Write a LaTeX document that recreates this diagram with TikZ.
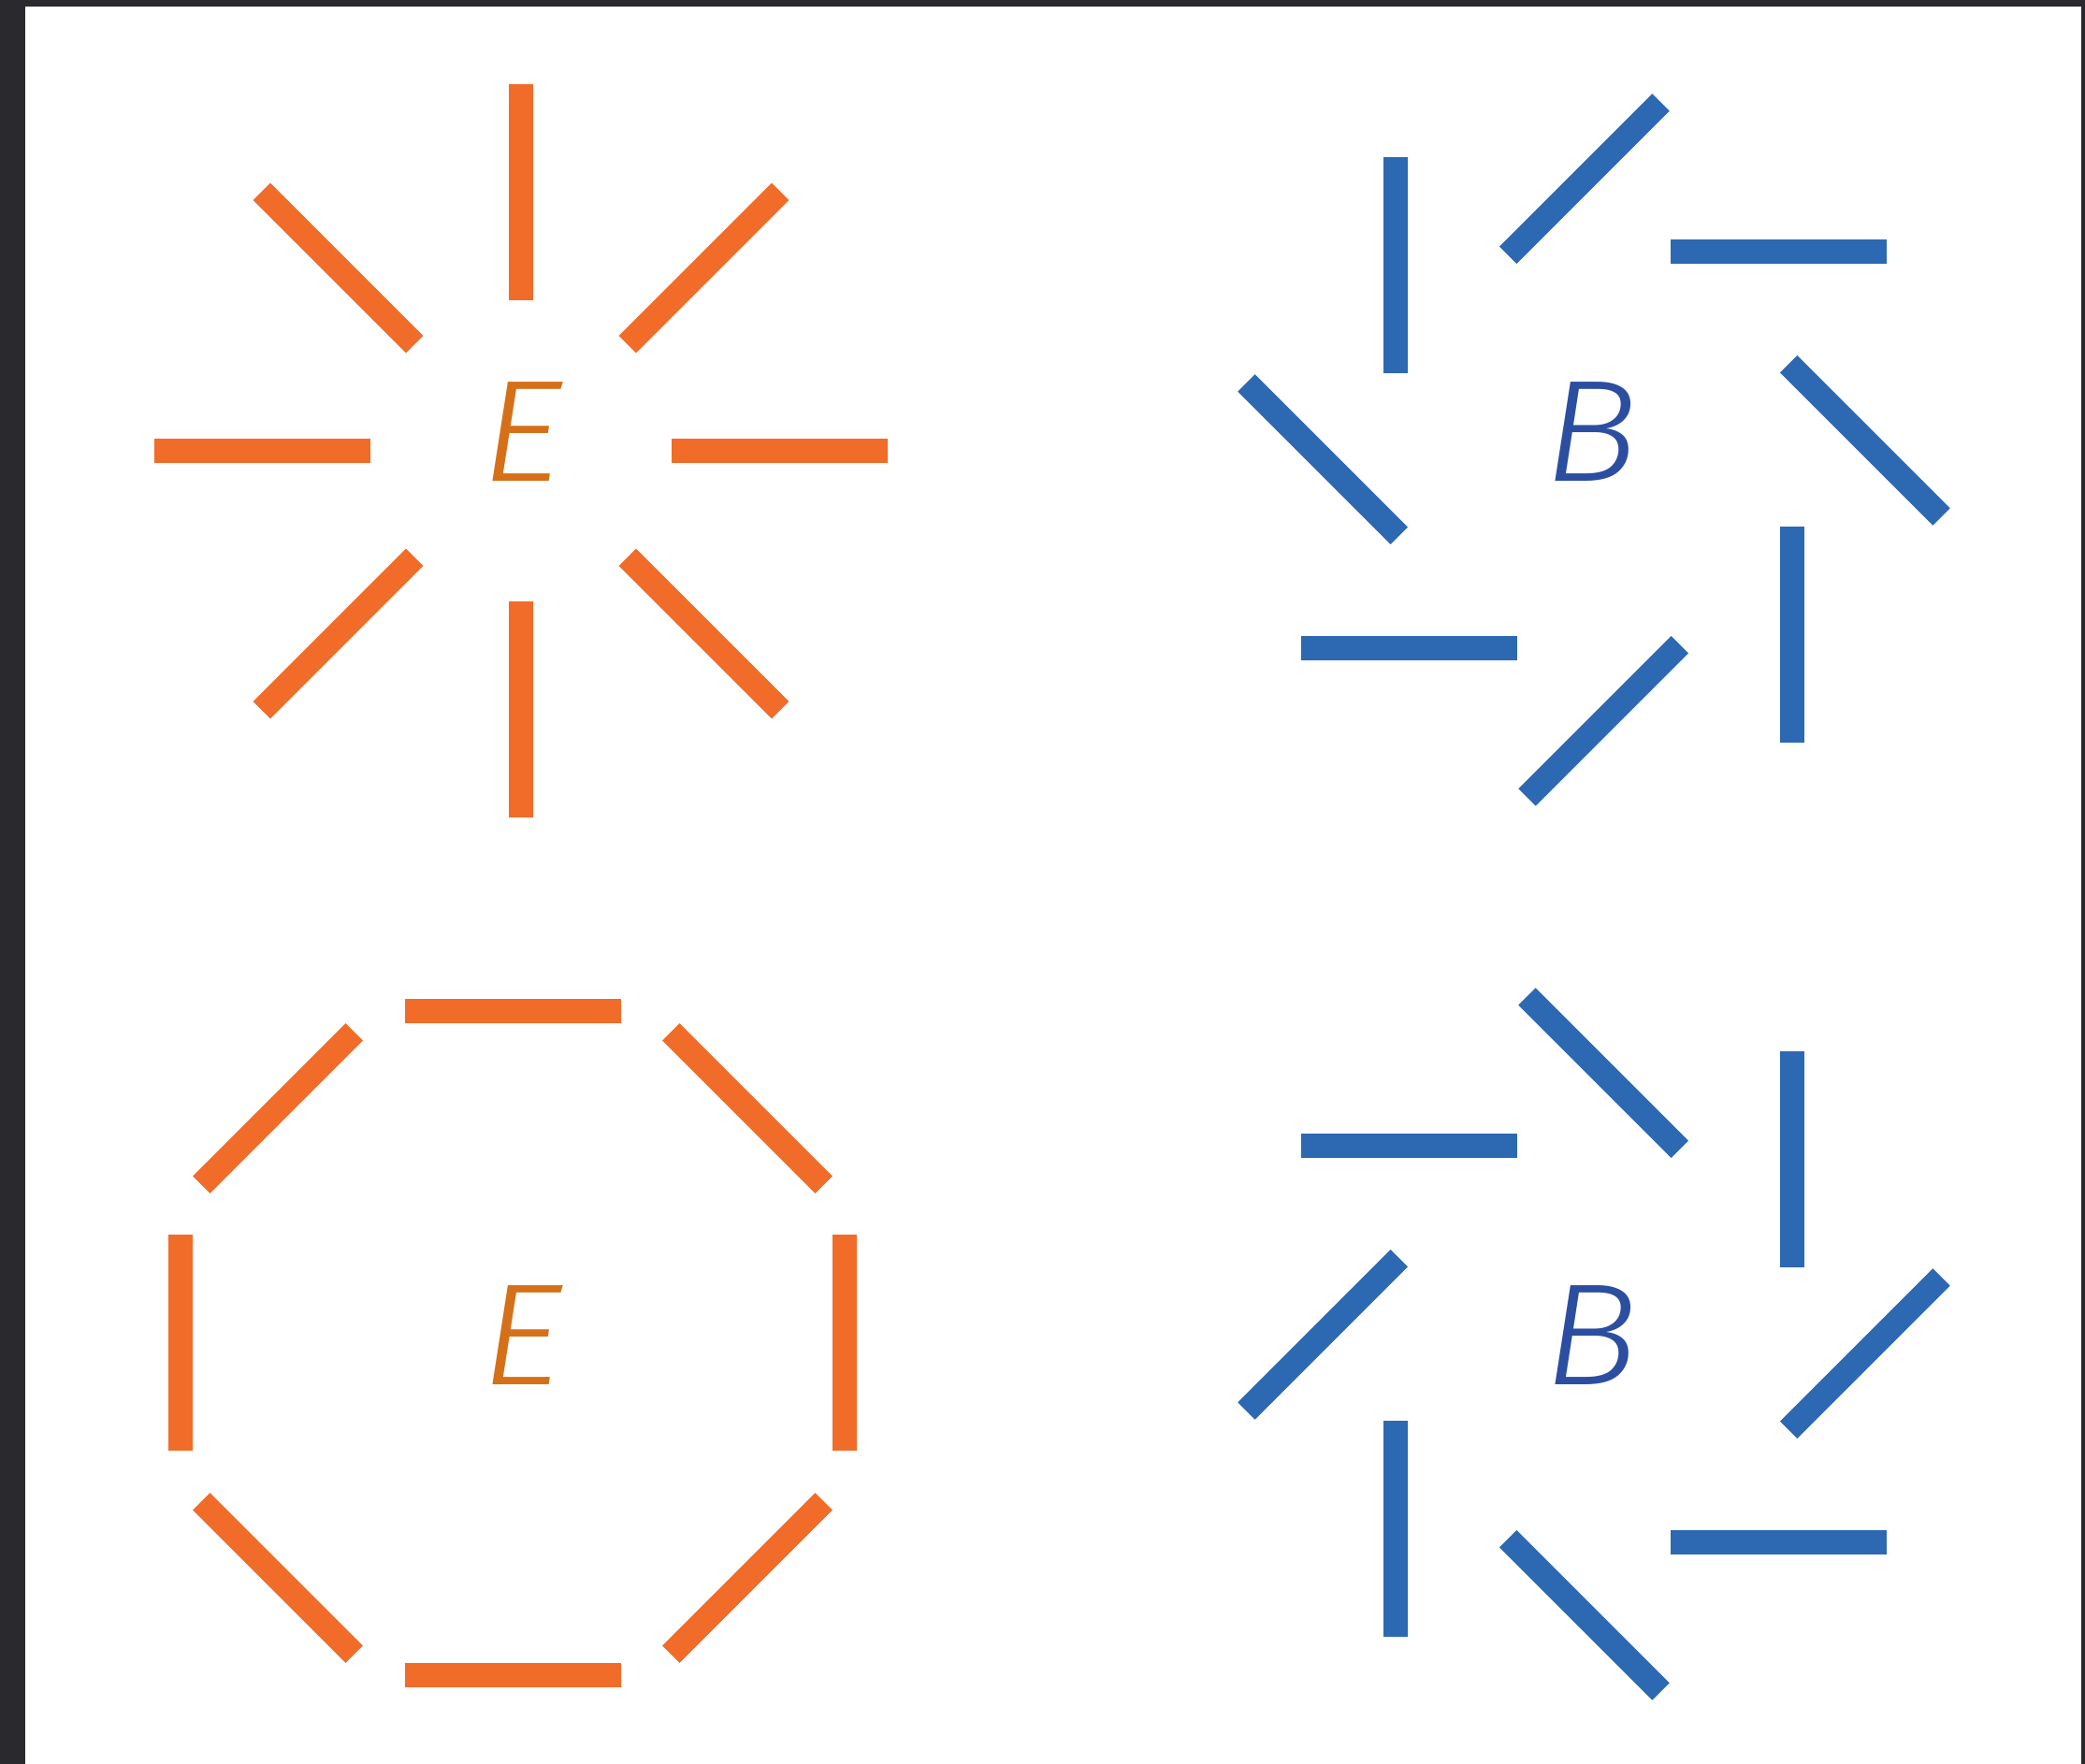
\documentclass[tikz,border=0pt]{standalone}
\usepackage{fontspec}
\usepackage{xcolor}
\usepackage{tikz}
\setsansfont{Fira Sans}[ItalicFont={Fira Sans Light Italic}, ItalicFeatures={FakeStretch=1.1}]
\definecolor{eorange}{RGB}{241, 108, 40}
\definecolor{elabel}{RGB}{213, 112, 24}
\definecolor{bblue}{RGB}{45, 104, 178}
\definecolor{blabel}{RGB}{44, 78, 160}
\definecolor{skydark}{RGB}{42, 41, 45}

\begin{document}
\begin{tikzpicture}[
  obar/.style={draw=eorange, line width=0.26cm, line cap=butt},
  bbar/.style={draw=bblue, line width=0.26cm, line cap=butt},
  letter/.style={font=\sffamily\itshape\fontsize{44}{44}\selectfont, inner sep=0pt}
]
  % Frame
  \fill[skydark] (0,0) rectangle (22.29,18.86);
  \fill[white] (0.27,0) rectangle (22.25,18.79);
  \useasboundingbox (0,0) rectangle (22.29,18.86);

  % Centres
  \coordinate (erad) at (5.57,14.04);
  \coordinate (etan) at (5.48,4.50);
  \coordinate (btop) at (17.04,14.05);
  \coordinate (bbot) at (17.04,4.49);

  % E mode, radial
  \foreach \a in {0,45,...,315}
    \draw[obar, shift={(erad)}, rotate=\a] (1.61,0) -- (3.92,0);

  % E mode, tangential
  \foreach \a in {0,45,...,315}
    \draw[obar, shift={(etan)}, rotate=\a] (3.55,-1.155) -- (3.55,1.155);

  % B mode, one hand
  \foreach \a in {0,45,...,315}
    \draw[bbar, shift={(btop)}] ({\a+2}:2.90) ++({\a-45}:-1.155) -- ++({\a-45}:2.31);

  % B mode, other hand
  \foreach \a in {0,45,...,315}
    \draw[bbar, shift={(bbot)}] ({\a-2}:2.90) ++({\a+45}:-1.155) -- ++({\a+45}:2.31);

  % Labels
  \node[letter, text=elabel] (e1) at (5.58,14.24) {E};
  \node[letter, text=elabel] (e2) at (5.58,4.58) {E};
  \node[letter, text=blabel] (b1) at (17.01,14.24) {B};
  \node[letter, text=blabel] (b2) at (17.01,4.58) {B};
\end{tikzpicture}
\end{document}
